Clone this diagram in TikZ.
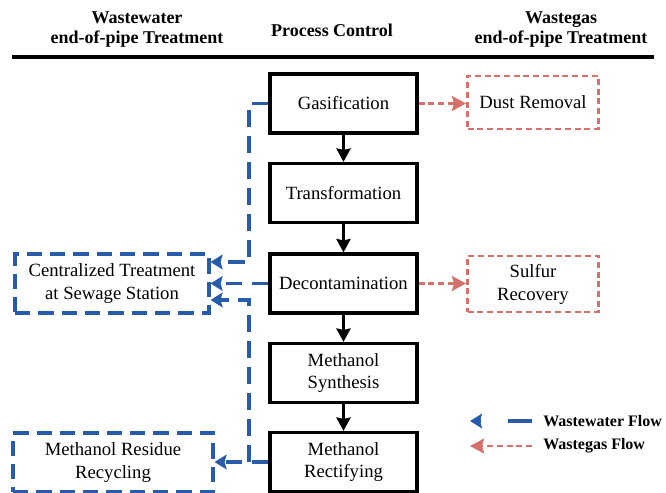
\documentclass[tikz,border=0pt]{standalone}
\usepackage{fontspec}
\setmainfont{Liberation Serif}
\usetikzlibrary{arrows.meta}
\definecolor{wblue}{RGB}{40,92,170}
\definecolor{gred}{RGB}{214,112,106}
\begin{document}
\begin{tikzpicture}[x=0.75pt,y=-0.75pt,
  txt/.style={font=\fontsize{14}{17.2}\selectfont,align=center,inner sep=0pt},
  head/.style={font=\fontsize{13.5}{15}\selectfont\bfseries,align=center,inner sep=0pt},
  proc/.style={txt,draw=black,line width=2.4pt,minimum width=110.25pt,minimum height=44.25pt},
  gasbox/.style={txt,draw=gred,line width=2.2pt,dash pattern=on 4.5pt off 2.8pt,minimum width=98.25pt},
  wbox/.style={txt,draw=wblue,line width=2.3pt,dash pattern=on 11.5pt off 6pt,minimum height=44.25pt},
  pflow/.style={draw=black,line width=2.4pt,-{Stealth[length=10pt,width=10.5pt,inset=1pt]}},
  wflow/.style={draw=wblue,line width=2.3pt,dash pattern=on 12.5pt off 7pt,-{Stealth[length=9pt,width=11pt,inset=1.5pt]}},
  gflow/.style={draw=gred,line width=2.2pt,dash pattern=on 4.5pt off 2.8pt,-{Stealth[length=10.5pt,width=11pt,inset=1.5pt]}},
  legtxt/.style={font=\fontsize{12}{14}\selectfont\bfseries,anchor=west,inner sep=0pt}]
\useasboundingbox (0,0) rectangle (666,492);

% header
\node[head] (h1) at (137,30) {Wastewater\\end-of-pipe Treatment};
\node[head] (h2) at (332,30) {Process Control};
\node[head] (h3) at (561,30) {Wastegas\\end-of-pipe Treatment};
\coordinate (hl0) at (12,57);
\coordinate (hl1) at (654,57);
\draw[line width=2.4pt] (hl0) -- (hl1);

% process column
\node[proc] (gas) at (343.5,103.5) {Gasification};
\node[proc] (tra) at (343.5,193) {Transformation};
\node[proc] (dec) at (343.5,283.5) {Decontamination};
\node[proc] (syn) at (343.5,373) {Methanol\\Synthesis};
\node[proc] (rec) at (343.5,462) {Methanol\\Rectifying};
\draw[pflow] (gas) -- (tra);
\draw[pflow] (tra) -- (dec);
\draw[pflow] (dec) -- (syn);
\draw[pflow] (syn) -- (rec);

% wastegas
\node[gasbox,minimum height=39.75pt] (dust) at (533,102.5) {Dust Removal};
\node[gasbox,minimum height=42pt] (sulf) at (533,284) {Sulfur\\Recovery};
\draw[gflow] (gas.east) -- (dust.west |- gas.east);
\draw[gflow] (dec.east) -- (sulf.west |- dec.east);

% wastewater
\node[wbox,minimum width=145.5pt] (cen) at (112,283.5) {Centralized Treatment\\at Sewage Station};
\node[wbox,minimum width=150pt] (res) at (113,462.5) {Methanol Residue\\Recycling};
\coordinate (c1) at (249,262);
\coordinate (c3) at (249,462);
\coordinate (c4) at (249,300);
\draw[wflow] (gas.west) -| (c1) -- (cen.east |- c1);
\draw[wflow] (dec.west) -- (cen.east |- dec.west);
\draw[wflow] (rec.west) -- (res.east |- rec.west);
\draw[wflow] (c3) -- (c4) -- (cen.east |- c4);

% legend
\coordinate (lb0) at (532,421);
\coordinate (lb1) at (470,421);
\coordinate (lr0) at (532,446);
\coordinate (lr1) at (470,446);
\draw[wflow,dash pattern=on 18pt off 20pt] (lb0) -- (lb1);
\draw[gflow] (lr0) -- (lr1);
\node[legtxt] (lt1) at (543,421) {Wastewater Flow};
\node[legtxt] (lt2) at (543,446) {Wastegas Flow};
\end{tikzpicture}
\end{document}
